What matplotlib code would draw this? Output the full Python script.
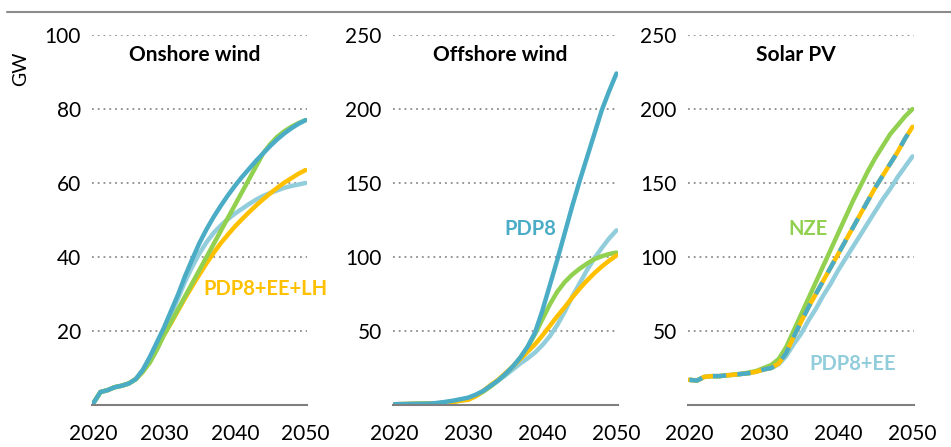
import matplotlib.pyplot as plt
import numpy as np

plt.rcParams['font.family'] = ['Lato', 'DejaVu Sans']
plt.rcParams['lines.solid_joinstyle'] = 'round'
plt.rcParams['lines.solid_capstyle'] = 'round'

years = np.arange(2020, 2051)

# colours
c_pdp8 = '#4BACC6'
c_ee = '#92CDDC'
c_nze = '#92D050'
c_lh = '#FFC000'

# Onshore wind (GW)
on_pdp8 = [0.5, 3.5, 4, 4.8, 5.2, 5.8, 7, 9.5, 13, 17, 21, 25.5, 30, 35, 39.5, 43.8, 47.5,
           50.8, 53.8, 56.6, 59.2, 61.6, 63.8, 66, 68, 70, 71.8, 73.4, 74.8, 76, 77]
on_ee = [0.5, 3.5, 4, 4.8, 5.2, 5.8, 7, 9.5, 13, 16.8, 20.5, 24.5, 29, 33.5, 37.5, 41, 44,
         46.5, 48.5, 50.2, 51.7, 53, 54.3, 55.5, 56.5, 57.3, 58, 58.7, 59.2, 59.6, 60]
on_lh = [0.5, 3.5, 4, 4.8, 5.2, 5.8, 7, 9, 12, 15.5, 19, 22.2, 25.6, 29, 32.2, 35.3, 38.3,
         41.1, 43.7, 46, 48.2, 50.2, 52.1, 53.9, 55.6, 57.2, 58.7, 60.1, 61.3, 62.5, 63.5]
on_nze = [0.5, 3.5, 4, 4.8, 5.2, 5.8, 7, 9, 11.5, 15, 19, 22.5, 26, 29.5, 33, 36.5, 40,
          43.5, 47, 50.5, 54, 57.5, 61, 64.5, 68, 70.5, 72.5, 74, 75.2, 76.2, 77]

# Offshore wind (GW)
off_pdp8 = [0.5, 0.6, 0.7, 0.8, 0.9, 1, 1.5, 2.2, 3, 4, 5, 7, 9.5, 13, 16.5, 21, 26,
            32, 39.5, 49, 64, 81, 98, 116, 134, 151, 167, 183, 199, 212, 224]
off_ee = [0.5, 0.6, 0.7, 0.8, 0.9, 1, 1.3, 1.8, 2.5, 3.5, 4.5, 6.5, 9.5, 13, 16.5, 20, 24,
          28, 31.5, 35.5, 40.5, 46.5, 54, 63, 73, 82, 91, 99, 106, 112.5, 118]
off_nze = [0.5, 0.6, 0.7, 0.8, 0.9, 1, 1.2, 1.6, 2.2, 3, 4, 6, 9, 12.5, 16.5, 21, 26,
           32, 39, 48, 58, 68, 76.5, 83, 88, 92, 95.5, 98.5, 100.5, 102, 103]
off_lh = [0.5, 0.6, 0.7, 0.8, 0.9, 1, 1.2, 1.6, 2.2, 3, 3.5, 6, 9.5, 13.5, 17, 21.5, 26,
          31, 36, 41, 47, 53.5, 60, 66, 72.5, 78.5, 84, 89, 93.5, 97.5, 101]

# Solar PV (GW)
pv_nze = [17, 16.5, 19, 19.5, 19.5, 20, 20.5, 21, 22, 23, 25, 27, 31, 39, 50, 61, 72,
          83, 94, 105, 116, 127, 138, 148, 158, 167, 175, 183, 189, 195, 200]
pv_pdp8 = [17, 16.5, 19, 19.5, 19.5, 20, 20.5, 21, 21.5, 22.5, 24, 25, 28, 35, 46, 56, 66,
           75, 84, 93, 102, 111, 120, 129, 138, 147, 155, 163, 171, 180, 188]
pv_ee = [17, 16.5, 19, 19.5, 19.5, 20, 20.5, 21, 21.5, 22.5, 24, 25, 27.5, 33, 41, 48, 57,
         65, 74, 82, 91, 99, 107, 115, 123, 131, 139, 146, 154, 161, 168]

fig = plt.figure(figsize=(9.51, 4.47), dpi=100)
fig.add_artist(plt.Line2D([0.007, 1.0], [0.973, 0.973], color='#8c8c8c', lw=1.5))

boxes = [[0.0967, 0.094, 0.2261, 0.8277],
         [0.4132, 0.094, 0.2366, 0.8277],
         [0.7234, 0.094, 0.2377, 0.8277]]
titles = ['Onshore wind', 'Offshore wind', 'Solar PV']
tops = [100, 250, 250]
steps = [20, 50, 50]

axes = []
for box, title, top, step in zip(boxes, titles, tops, steps):
    ax = fig.add_axes(box)
    ax.set_xlim(2019.8, 2050.2)
    ax.set_ylim(0, top)
    ax.set_yticks(np.arange(step, top + 1, step))
    ax.set_xticks([2020, 2030, 2040, 2050])
    ax.tick_params(length=0, labelsize=15, pad=8)
    ax.tick_params(axis='x', pad=14)
    for s in ['top', 'right', 'left']:
        ax.spines[s].set_visible(False)
    ax.spines['bottom'].set_color('#7f7f7f')
    ax.spines['bottom'].set_linewidth(1.5)
    ax.grid(axis='y', linestyle=(0, (1, 2.2)), color='#8c8c8c', lw=1.3)
    ax.set_axisbelow(True)
    ax.text(0.478, 0.945, title, transform=ax.transAxes, ha='center', va='center',
            fontsize=15, fontweight='bold')
    axes.append(ax)

lw = 3.2
ax = axes[0]
ax.plot(years, on_ee, color=c_ee, lw=lw)
ax.plot(years, on_lh, color=c_lh, lw=lw)
ax.plot(years, on_nze, color=c_nze, lw=lw)
ax.plot(years, on_pdp8, color=c_pdp8, lw=lw)
ax.text(2035.6, 31.3, 'PDP8+EE+LH', color=c_lh, fontsize=14.5, fontweight='bold', va='center')
ax.set_ylabel('GW', fontsize=14)
ax.yaxis.set_label_coords(-0.29, 0.91)

ax = axes[1]
ax.plot(years, off_ee, color=c_ee, lw=lw)
ax.plot(years, off_nze, color=c_nze, lw=lw)
ax.plot(years, off_lh, color=c_lh, lw=lw)
ax.plot(years, off_pdp8, color=c_pdp8, lw=lw)
ax.text(2038.4, 119, 'PDP8', color=c_pdp8, fontsize=14.5, fontweight='bold', va='center',
        ha='center')

ax = axes[2]
ax.plot(years, pv_ee, color=c_ee, lw=lw)
ax.plot(years, pv_nze, color=c_nze, lw=lw)
ax.plot(years, pv_pdp8, color=c_lh, lw=lw)
ax.plot(years, pv_pdp8, color=c_pdp8, lw=lw, linestyle=(0, (3, 2.5)))
ax.text(2035.9, 119, 'NZE', color=c_nze, fontsize=14.5, fontweight='bold', va='center',
        ha='center')
ax.text(2042.0, 28, 'PDP8+EE', color=c_ee, fontsize=14.5, fontweight='bold', va='center',
        ha='center')

fig.savefig('out.png', dpi=100)
